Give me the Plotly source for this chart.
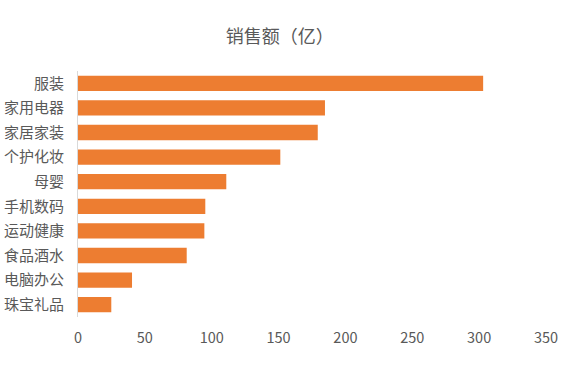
import plotly.graph_objects as go

categories = ["服装", "家用电器", "家居家装", "个护化妆", "母婴", "手机数码", "运动健康", "食品酒水", "电脑办公", "珠宝礼品"]
sales = [303, 184.7, 179.3, 151.3, 110.9, 95.2, 94.5, 81.3, 40.4, 24.9]
x_ticks = [0, 50, 100, 150, 200, 250, 300, 350]

font_family = "Noto Sans CJK SC, Microsoft YaHei, sans-serif"

fig = go.Figure(go.Bar(
    y=categories,
    x=sales,
    orientation="h",
    marker=dict(color="#ED7D31", line=dict(width=0)),
    hoverinfo="x+y",
))

fig.update_layout(
    width=571, height=365,
    margin=dict(l=78, r=25, t=71, b=48),
    paper_bgcolor="white", plot_bgcolor="white",
    bargap=0.38,
    title=dict(text="销售额（亿）", x=0.49, xanchor="center", y=0.899, yanchor="middle",
               font=dict(family=font_family, size=18, color="#595959")),
    font=dict(family=font_family, size=15, color="#595959"),
    showlegend=False,
    xaxis=dict(range=[0, 350], tickvals=x_ticks, showgrid=False, zeroline=False,
               showline=False, ticks="", automargin=False, ticklabelstandoff=10,
               tickfont=dict(size=14.5, color="#595959")),
    yaxis=dict(categoryorder="array", categoryarray=categories[::-1], autorange=True,
               showgrid=False, zeroline=False, showline=True, linecolor="#D9D9D9",
               linewidth=1, ticks="", ticklabelstandoff=10, automargin=False,
               tickfont=dict(size=15, color="#595959")),
)

fig.write_html("out.html",
               config={"displayModeBar": False},
               post_script="document.body.style.margin='0';document.body.style.overflow='hidden';")
